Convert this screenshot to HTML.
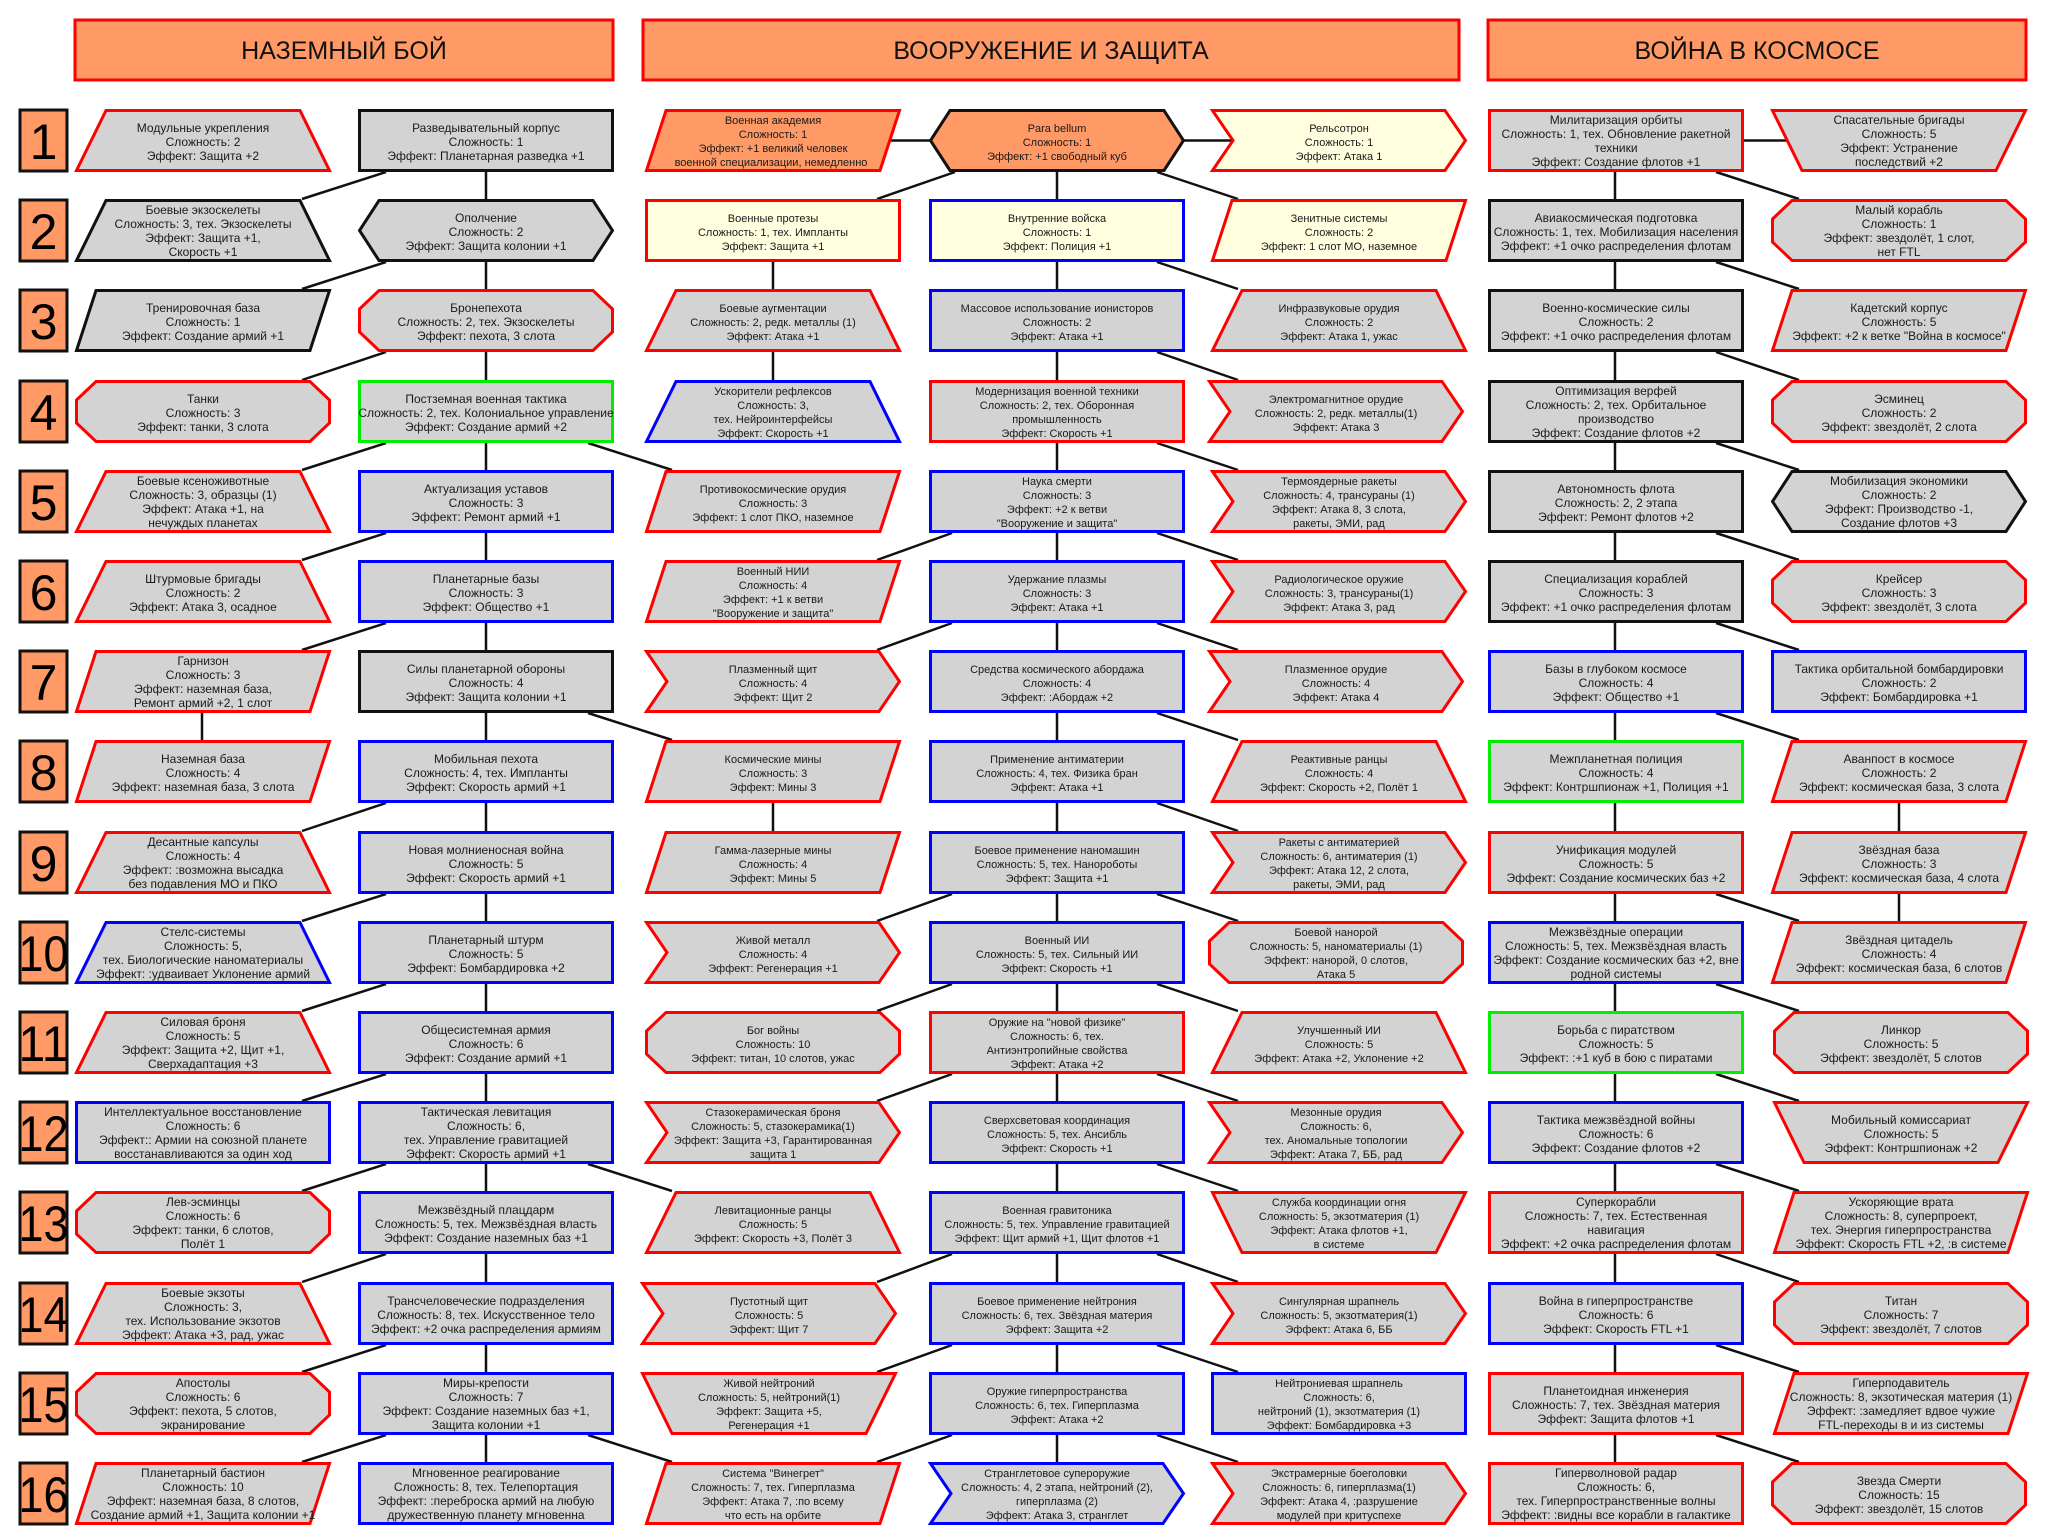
<!DOCTYPE html>
<html><head><meta charset="utf-8">
<style>
html,body{margin:0;padding:0;background:#fff;}
svg{display:block;font-family:"Liberation Sans","DejaVu Sans",sans-serif;}
.t{font-size:12px;fill:#1a1a1a;text-anchor:middle;}
.m .t{font-size:11px;}
.r{stroke:#ff0000;fill:#d3d3d3;}
.b{stroke:#0000ff;fill:#d3d3d3;}
.k{stroke:#111;fill:#d3d3d3;}
.g{stroke:#00ee00;fill:#d3d3d3;}
.ro{stroke:#ff0000;fill:#ff9966;}
.ko{stroke:#111;fill:#ff9966;}
.ry{stroke:#ff0000;fill:#ffffe0;}
.by{stroke:#0000ff;fill:#ffffe0;}
use{stroke-width:3;}
.num{font-size:50px;text-anchor:middle;fill:#000;}
.hd{font-size:25px;text-anchor:middle;fill:#111;}
</style></head><body>
<svg width="2058" height="1537" viewBox="0 0 2058 1537" xmlns="http://www.w3.org/2000/svg">
<defs>
<path id="rect" d="M1.5,1.5H254.5V61.5H1.5Z"/>
<path id="trap" d="M31,1.5H225L254.5,61.5H1.5Z"/>
<path id="inv" d="M1.5,1.5H254.5L225,61.5H31Z"/>
<path id="para" d="M21,1.5H254.5L235,61.5H1.5Z"/>
<path id="hex" d="M21,1.5H235L254.5,31.5L235,61.5H21L1.5,31.5Z"/>
<path id="oct" d="M21,1.5H235L254.5,20V43L235,61.5H21L1.5,43V20Z"/>
<path id="chev" d="M1.5,1.5H234L254.5,31.5L234,61.5H1.5L22,31.5Z"/>
</defs>

<!-- headers -->
<rect x="75" y="20" width="538" height="60" fill="#ff9966" stroke="#ff0000" stroke-width="3"/>
<text class="hd" x="344" y="59">НАЗЕМНЫЙ БОЙ</text>
<rect x="643" y="20" width="816" height="60" fill="#ff9966" stroke="#ff0000" stroke-width="3"/>
<text class="hd" x="1051" y="59">ВООРУЖЕНИЕ И ЗАЩИТА</text>
<rect x="1488" y="20" width="538" height="60" fill="#ff9966" stroke="#ff0000" stroke-width="3"/>
<text class="hd" x="1757" y="59">ВОЙНА В КОСМОСЕ</text>

<!-- number boxes -->
<g fill="#ff9966" stroke="#111" stroke-width="3">
<rect x="20" y="110" width="47" height="61"/><rect x="20" y="200" width="47" height="61"/>
<rect x="20" y="290" width="47" height="61"/><rect x="20" y="381" width="47" height="61"/>
<rect x="20" y="471" width="47" height="61"/><rect x="20" y="561" width="47" height="61"/>
<rect x="20" y="651" width="47" height="61"/><rect x="20" y="741" width="47" height="61"/>
<rect x="20" y="832" width="47" height="61"/><rect x="20" y="922" width="47" height="61"/>
<rect x="20" y="1012" width="47" height="61"/><rect x="20" y="1102" width="47" height="61"/>
<rect x="20" y="1192" width="47" height="61"/><rect x="20" y="1283" width="47" height="61"/>
<rect x="20" y="1373" width="47" height="61"/><rect x="20" y="1463" width="47" height="61"/>
</g>
<g class="num">
<text x="43.5" y="159">1</text><text x="43.5" y="249">2</text><text x="43.5" y="339">3</text><text x="43.5" y="430">4</text>
<text x="43.5" y="520">5</text><text x="43.5" y="610">6</text><text x="43.5" y="700">7</text><text x="43.5" y="790">8</text>
<text x="43.5" y="881">9</text>
<text x="43.5" y="971" textLength="50" lengthAdjust="spacingAndGlyphs">10</text>
<text x="43.5" y="1061" textLength="50" lengthAdjust="spacingAndGlyphs">11</text>
<text x="43.5" y="1151" textLength="50" lengthAdjust="spacingAndGlyphs">12</text>
<text x="43.5" y="1241" textLength="50" lengthAdjust="spacingAndGlyphs">13</text>
<text x="43.5" y="1332" textLength="50" lengthAdjust="spacingAndGlyphs">14</text>
<text x="43.5" y="1422" textLength="50" lengthAdjust="spacingAndGlyphs">15</text>
<text x="43.5" y="1512" textLength="50" lengthAdjust="spacingAndGlyphs">16</text>
</g>

<!-- connectors -->
<g stroke="#111" stroke-width="2.5" fill="none">
<path d="M486,172V1462 M1057,172V1462 M1615,172V1462"/>
<path d="M202,713V740 M773,262V380 M773,803V831 M1899,803V921"/>
<path d="M880,140.5H950 M1160,140.5H1233 M1743,140.5H1790"/>
<path d="M386,172L302,199 M386,262L302,289 M386,352L302,380 M386,443L302,470 M386,533L302,560 M386,623L302,650 M386,803L302,831 M386,894L302,921 M386,984L302,1011 M386,1074L302,1101 M386,1164L302,1191 M386,1254L302,1282 M386,1345L302,1372 M386,1435L302,1462"/>
<path d="M588,443L672,470 M588,713L672,740 M588,1164L672,1191 M588,1435L672,1462"/>
<path d="M955,172L877,199 M952,533L877,560 M952,623L877,650 M952,894L877,921 M952,984L877,1011 M952,1074L877,1101 M952,1254L877,1282 M952,1345L877,1372 M952,1435L877,1462"/>
<path d="M1157,172L1238,199 M1157,262L1238,289 M1157,352L1238,380 M1157,443L1238,470 M1157,533L1238,560 M1157,623L1238,650 M1157,713L1238,740 M1157,803L1238,831 M1157,894L1238,921 M1157,984L1238,1011 M1157,1074L1238,1101 M1157,1164L1238,1191 M1157,1254L1238,1282 M1157,1345L1238,1372 M1157,1435L1238,1462"/>
<path d="M1716,172L1799,199 M1716,262L1799,289 M1716,352L1799,380 M1716,443L1799,470 M1716,533L1799,560 M1716,623L1799,650 M1716,713L1799,740 M1716,894L1799,921 M1716,984L1799,1011 M1716,1074L1799,1101 M1716,1164L1799,1191 M1716,1254L1799,1282 M1716,1345L1799,1372 M1716,1435L1799,1462"/>
</g>

<!-- ===== L1 ===== -->
<g transform="translate(75,109)"><use href="#trap" class="r"/><text class="t"><tspan x="128" y="23">Модульные укрепления</tspan><tspan x="128" y="37">Сложность: 2</tspan><tspan x="128" y="51">Эффект: Защита +2</tspan></text></g>
<g transform="translate(75,199)"><use href="#trap" class="k"/><text class="t"><tspan x="128" y="15">Боевые экзоскелеты</tspan><tspan x="128" y="29">Сложность: 3, тех. Экзоскелеты</tspan><tspan x="128" y="43">Эффект: Защита +1,</tspan><tspan x="128" y="57">Скорость +1</tspan></text></g>
<g transform="translate(75,289)"><use href="#para" class="k"/><text class="t"><tspan x="128" y="23">Тренировочная база</tspan><tspan x="128" y="37">Сложность: 1</tspan><tspan x="128" y="51">Эффект: Создание армий +1</tspan></text></g>
<g transform="translate(75,380)"><use href="#oct" class="r"/><text class="t"><tspan x="128" y="23">Танки</tspan><tspan x="128" y="37">Сложность: 3</tspan><tspan x="128" y="51">Эффект: танки, 3 слота</tspan></text></g>
<g transform="translate(75,470)"><use href="#trap" class="r"/><text class="t"><tspan x="128" y="15">Боевые ксеноживотные</tspan><tspan x="128" y="29">Сложность: 3, образцы (1)</tspan><tspan x="128" y="43">Эффект: Атака +1, на</tspan><tspan x="128" y="57">нечуждых планетах</tspan></text></g>
<g transform="translate(75,560)"><use href="#trap" class="r"/><text class="t"><tspan x="128" y="23">Штурмовые бригады</tspan><tspan x="128" y="37">Сложность: 2</tspan><tspan x="128" y="51">Эффект: Атака 3, осадное</tspan></text></g>
<g transform="translate(75,650)"><use href="#para" class="r"/><text class="t"><tspan x="128" y="15">Гарнизон</tspan><tspan x="128" y="29">Сложность: 3</tspan><tspan x="128" y="43">Эффект: наземная база,</tspan><tspan x="128" y="57">Ремонт армий +2, 1 слот</tspan></text></g>
<g transform="translate(75,740)"><use href="#para" class="r"/><text class="t"><tspan x="128" y="23">Наземная база</tspan><tspan x="128" y="37">Сложность: 4</tspan><tspan x="128" y="51">Эффект: наземная база, 3 слота</tspan></text></g>
<g transform="translate(75,831)"><use href="#trap" class="r"/><text class="t"><tspan x="128" y="15">Десантные капсулы</tspan><tspan x="128" y="29">Сложность: 4</tspan><tspan x="128" y="43">Эффект: :возможна высадка</tspan><tspan x="128" y="57">без подавления МО и ПКО</tspan></text></g>
<g transform="translate(75,921)"><use href="#trap" class="b"/><text class="t"><tspan x="128" y="15">Стелс-системы</tspan><tspan x="128" y="29">Сложность: 5,</tspan><tspan x="128" y="43">тех. Биологические наноматериалы</tspan><tspan x="128" y="57">Эффект: :удваивает Уклонение армий</tspan></text></g>
<g transform="translate(75,1011)"><use href="#trap" class="r"/><text class="t"><tspan x="128" y="15">Силовая броня</tspan><tspan x="128" y="29">Сложность: 5</tspan><tspan x="128" y="43">Эффект: Защита +2, Щит +1,</tspan><tspan x="128" y="57">Сверхадаптация +3</tspan></text></g>
<g transform="translate(75,1101)"><use href="#rect" class="b"/><text class="t"><tspan x="128" y="15">Интеллектуальное восстановление</tspan><tspan x="128" y="29">Сложность: 6</tspan><tspan x="128" y="43">Эффект:: Армии на союзной планете</tspan><tspan x="128" y="57">восстанавливаются за один ход</tspan></text></g>
<g transform="translate(75,1191)"><use href="#oct" class="r"/><text class="t"><tspan x="128" y="15">Лев-эсминцы</tspan><tspan x="128" y="29">Сложность: 6</tspan><tspan x="128" y="43">Эффект: танки, 6 слотов,</tspan><tspan x="128" y="57">Полёт 1</tspan></text></g>
<g transform="translate(75,1282)"><use href="#trap" class="r"/><text class="t"><tspan x="128" y="15">Боевые экзоты</tspan><tspan x="128" y="29">Сложность: 3,</tspan><tspan x="128" y="43">тех. Использование экзотов</tspan><tspan x="128" y="57">Эффект: Атака +3, рад, ужас</tspan></text></g>
<g transform="translate(75,1372)"><use href="#oct" class="r"/><text class="t"><tspan x="128" y="15">Апостолы</tspan><tspan x="128" y="29">Сложность: 6</tspan><tspan x="128" y="43">Эффект: пехота, 5 слотов,</tspan><tspan x="128" y="57">экранирование</tspan></text></g>
<g transform="translate(75,1462)"><use href="#para" class="r"/><text class="t"><tspan x="128" y="15">Планетарный бастион</tspan><tspan x="128" y="29">Сложность: 10</tspan><tspan x="128" y="43">Эффект: наземная база, 8 слотов,</tspan><tspan x="128" y="57">Создание армий +1, Защита колонии +1</tspan></text></g>

<!-- ===== L2 ===== -->
<g transform="translate(358,109)"><use href="#rect" class="k"/><text class="t"><tspan x="128" y="23">Разведывательный корпус</tspan><tspan x="128" y="37">Сложность: 1</tspan><tspan x="128" y="51">Эффект: Планетарная разведка +1</tspan></text></g>
<g transform="translate(358,199)"><use href="#hex" class="k"/><text class="t"><tspan x="128" y="23">Ополчение</tspan><tspan x="128" y="37">Сложность: 2</tspan><tspan x="128" y="51">Эффект: Защита колонии +1</tspan></text></g>
<g transform="translate(358,289)"><use href="#oct" class="r"/><text class="t"><tspan x="128" y="23">Бронепехота</tspan><tspan x="128" y="37">Сложность: 2, тех. Экзоскелеты</tspan><tspan x="128" y="51">Эффект: пехота, 3 слота</tspan></text></g>
<g transform="translate(358,380)"><use href="#rect" class="g"/><text class="t"><tspan x="128" y="23">Постземная военная тактика</tspan><tspan x="128" y="37">Сложность: 2, тех. Колониальное управление</tspan><tspan x="128" y="51">Эффект: Создание армий +2</tspan></text></g>
<g transform="translate(358,470)"><use href="#rect" class="b"/><text class="t"><tspan x="128" y="23">Актуализация уставов</tspan><tspan x="128" y="37">Сложность: 3</tspan><tspan x="128" y="51">Эффект: Ремонт армий +1</tspan></text></g>
<g transform="translate(358,560)"><use href="#rect" class="b"/><text class="t"><tspan x="128" y="23">Планетарные базы</tspan><tspan x="128" y="37">Сложность: 3</tspan><tspan x="128" y="51">Эффект: Общество +1</tspan></text></g>
<g transform="translate(358,650)"><use href="#rect" class="k"/><text class="t"><tspan x="128" y="23">Силы планетарной обороны</tspan><tspan x="128" y="37">Сложность: 4</tspan><tspan x="128" y="51">Эффект: Защита колонии +1</tspan></text></g>
<g transform="translate(358,740)"><use href="#rect" class="b"/><text class="t"><tspan x="128" y="23">Мобильная пехота</tspan><tspan x="128" y="37">Сложность: 4, тех. Импланты</tspan><tspan x="128" y="51">Эффект: Скорость армий +1</tspan></text></g>
<g transform="translate(358,831)"><use href="#rect" class="b"/><text class="t"><tspan x="128" y="23">Новая молниеносная война</tspan><tspan x="128" y="37">Сложность: 5</tspan><tspan x="128" y="51">Эффект: Скорость армий +1</tspan></text></g>
<g transform="translate(358,921)"><use href="#rect" class="b"/><text class="t"><tspan x="128" y="23">Планетарный штурм</tspan><tspan x="128" y="37">Сложность: 5</tspan><tspan x="128" y="51">Эффект: Бомбардировка +2</tspan></text></g>
<g transform="translate(358,1011)"><use href="#rect" class="b"/><text class="t"><tspan x="128" y="23">Общесистемная армия</tspan><tspan x="128" y="37">Сложность: 6</tspan><tspan x="128" y="51">Эффект: Создание армий +1</tspan></text></g>
<g transform="translate(358,1101)"><use href="#rect" class="b"/><text class="t"><tspan x="128" y="15">Тактическая левитация</tspan><tspan x="128" y="29">Сложность: 6,</tspan><tspan x="128" y="43">тех. Управление гравитацией</tspan><tspan x="128" y="57">Эффект: Скорость армий +1</tspan></text></g>
<g transform="translate(358,1191)"><use href="#rect" class="b"/><text class="t"><tspan x="128" y="23">Межзвёздный плацдарм</tspan><tspan x="128" y="37">Сложность: 5, тех. Межзвёздная власть</tspan><tspan x="128" y="51">Эффект: Создание наземных баз +1</tspan></text></g>
<g transform="translate(358,1282)"><use href="#rect" class="b"/><text class="t"><tspan x="128" y="23">Трансчеловеческие подразделения</tspan><tspan x="128" y="37">Сложность: 8, тех. Искусственное тело</tspan><tspan x="128" y="51">Эффект: +2 очка распределения армиям</tspan></text></g>
<g transform="translate(358,1372)"><use href="#rect" class="b"/><text class="t"><tspan x="128" y="15">Миры-крепости</tspan><tspan x="128" y="29">Сложность: 7</tspan><tspan x="128" y="43">Эффект: Создание наземных баз +1,</tspan><tspan x="128" y="57">Защита колонии +1</tspan></text></g>
<g transform="translate(358,1462)"><use href="#rect" class="b"/><text class="t"><tspan x="128" y="15">Мгновенное реагирование</tspan><tspan x="128" y="29">Сложность: 8, тех. Телепортация</tspan><tspan x="128" y="43">Эффект: :переброска армий на любую</tspan><tspan x="128" y="57">дружественную планету мгновенна</tspan></text></g>

<g class="m">
<!-- ===== M1 ===== -->
<g transform="translate(645,109)"><use href="#para" class="ro"/><text class="t"><tspan x="128" y="15">Военная академия</tspan><tspan x="128" y="29">Сложность: 1</tspan><tspan x="128" y="43">Эффект: +1 великий человек</tspan><tspan x="126" y="57">военной специализации, немедленно</tspan></text></g>
<g transform="translate(645,199)"><use href="#rect" class="ry"/><text class="t"><tspan x="128" y="23">Военные протезы</tspan><tspan x="128" y="37">Сложность: 1, тех. Импланты</tspan><tspan x="128" y="51">Эффект: Защита +1</tspan></text></g>
<g transform="translate(645,289)"><use href="#trap" class="r"/><text class="t"><tspan x="128" y="23">Боевые аугментации</tspan><tspan x="128" y="37">Сложность: 2, редк. металлы (1)</tspan><tspan x="128" y="51">Эффект: Атака +1</tspan></text></g>
<g transform="translate(645,380)"><use href="#trap" class="b"/><text class="t"><tspan x="128" y="15">Ускорители рефлексов</tspan><tspan x="128" y="29">Сложность: 3,</tspan><tspan x="128" y="43">тех. Нейроинтерфейсы</tspan><tspan x="128" y="57">Эффект: Скорость +1</tspan></text></g>
<g transform="translate(645,470)"><use href="#para" class="r"/><text class="t"><tspan x="128" y="23">Противокосмические орудия</tspan><tspan x="128" y="37">Сложность: 3</tspan><tspan x="128" y="51">Эффект: 1 слот ПКО, наземное</tspan></text></g>
<g transform="translate(645,560)"><use href="#para" class="r"/><text class="t"><tspan x="128" y="15">Военный НИИ</tspan><tspan x="128" y="29">Сложность: 4</tspan><tspan x="128" y="43">Эффект: +1 к ветви</tspan><tspan x="128" y="57">"Вооружение и защита"</tspan></text></g>
<g transform="translate(645,650)"><use href="#chev" class="r"/><text class="t"><tspan x="128" y="23">Плазменный щит</tspan><tspan x="128" y="37">Сложность: 4</tspan><tspan x="128" y="51">Эффект: Щит 2</tspan></text></g>
<g transform="translate(645,740)"><use href="#para" class="r"/><text class="t"><tspan x="128" y="23">Космические мины</tspan><tspan x="128" y="37">Сложность: 3</tspan><tspan x="128" y="51">Эффект: Мины 3</tspan></text></g>
<g transform="translate(645,831)"><use href="#para" class="r"/><text class="t"><tspan x="128" y="23">Гамма-лазерные мины</tspan><tspan x="128" y="37">Сложность: 4</tspan><tspan x="128" y="51">Эффект: Мины 5</tspan></text></g>
<g transform="translate(645,921)"><use href="#chev" class="r"/><text class="t"><tspan x="128" y="23">Живой металл</tspan><tspan x="128" y="37">Сложность: 4</tspan><tspan x="128" y="51">Эффект: Регенерация +1</tspan></text></g>
<g transform="translate(645,1011)"><use href="#oct" class="r"/><text class="t"><tspan x="128" y="23">Бог войны</tspan><tspan x="128" y="37">Сложность: 10</tspan><tspan x="128" y="51">Эффект: титан, 10 слотов, ужас</tspan></text></g>
<g transform="translate(645,1101)"><use href="#chev" class="r"/><text class="t"><tspan x="128" y="15">Стазокерамическая броня</tspan><tspan x="128" y="29">Сложность: 5, стазокерамика(1)</tspan><tspan x="128" y="43">Эффект: Защита +3, Гарантированная</tspan><tspan x="128" y="57">защита 1</tspan></text></g>
<g transform="translate(645,1191)"><use href="#trap" class="r"/><text class="t"><tspan x="128" y="23">Левитационные ранцы</tspan><tspan x="128" y="37">Сложность: 5</tspan><tspan x="128" y="51">Эффект: Скорость +3, Полёт 3</tspan></text></g>
<g transform="translate(641,1282)"><use href="#chev" class="r"/><text class="t"><tspan x="128" y="23">Пустотный щит</tspan><tspan x="128" y="37">Сложность: 5</tspan><tspan x="128" y="51">Эффект: Щит 7</tspan></text></g>
<g transform="translate(641,1372)"><use href="#inv" class="r"/><text class="t"><tspan x="128" y="15">Живой нейтроний</tspan><tspan x="128" y="29">Сложность: 5, нейтроний(1)</tspan><tspan x="128" y="43">Эффект: Защита +5,</tspan><tspan x="128" y="57">Регенерация +1</tspan></text></g>
<g transform="translate(645,1462)"><use href="#para" class="r"/><text class="t"><tspan x="128" y="15">Система "Винегрет"</tspan><tspan x="128" y="29">Сложность: 7, тех. Гиперплазма</tspan><tspan x="128" y="43">Эффект: Атака 7, :по всему</tspan><tspan x="128" y="57">что есть на орбите</tspan></text></g>

<!-- ===== M2 ===== -->
<g transform="translate(929,109)"><use href="#hex" class="ko"/><text class="t"><tspan x="128" y="23">Para bellum</tspan><tspan x="128" y="37">Сложность: 1</tspan><tspan x="128" y="51">Эффект: +1 свободный куб</tspan></text></g>
<g transform="translate(929,199)"><use href="#rect" class="by"/><text class="t"><tspan x="128" y="23">Внутренние войска</tspan><tspan x="128" y="37">Сложность: 1</tspan><tspan x="128" y="51">Эффект: Полиция +1</tspan></text></g>
<g transform="translate(929,289)"><use href="#rect" class="b"/><text class="t"><tspan x="128" y="23">Массовое использование ионисторов</tspan><tspan x="128" y="37">Сложность: 2</tspan><tspan x="128" y="51">Эффект: Атака +1</tspan></text></g>
<g transform="translate(929,380)"><use href="#rect" class="r"/><text class="t"><tspan x="128" y="15">Модернизация военной техники</tspan><tspan x="128" y="29">Сложность: 2, тех. Оборонная</tspan><tspan x="128" y="43">промышленность</tspan><tspan x="128" y="57">Эффект: Скорость +1</tspan></text></g>
<g transform="translate(929,470)"><use href="#rect" class="b"/><text class="t"><tspan x="128" y="15">Наука смерти</tspan><tspan x="128" y="29">Сложность: 3</tspan><tspan x="128" y="43">Эффект: +2 к ветви</tspan><tspan x="128" y="57">"Вооружение и защита"</tspan></text></g>
<g transform="translate(929,560)"><use href="#rect" class="b"/><text class="t"><tspan x="128" y="23">Удержание плазмы</tspan><tspan x="128" y="37">Сложность: 3</tspan><tspan x="128" y="51">Эффект: Атака +1</tspan></text></g>
<g transform="translate(929,650)"><use href="#rect" class="b"/><text class="t"><tspan x="128" y="23">Средства космического абордажа</tspan><tspan x="128" y="37">Сложность: 4</tspan><tspan x="128" y="51">Эффект: :Абордаж +2</tspan></text></g>
<g transform="translate(929,740)"><use href="#rect" class="b"/><text class="t"><tspan x="128" y="23">Применение антиматерии</tspan><tspan x="128" y="37">Сложность: 4, тех. Физика бран</tspan><tspan x="128" y="51">Эффект: Атака +1</tspan></text></g>
<g transform="translate(929,831)"><use href="#rect" class="b"/><text class="t"><tspan x="128" y="23">Боевое применение наномашин</tspan><tspan x="128" y="37">Сложность: 5, тех. Нанороботы</tspan><tspan x="128" y="51">Эффект: Защита +1</tspan></text></g>
<g transform="translate(929,921)"><use href="#rect" class="b"/><text class="t"><tspan x="128" y="23">Военный ИИ</tspan><tspan x="128" y="37">Сложность: 5, тех. Сильный ИИ</tspan><tspan x="128" y="51">Эффект: Скорость +1</tspan></text></g>
<g transform="translate(929,1011)"><use href="#rect" class="r"/><text class="t"><tspan x="128" y="15">Оружие на "новой физике"</tspan><tspan x="128" y="29">Сложность: 6, тех.</tspan><tspan x="128" y="43">Антиэнтропийные свойства</tspan><tspan x="128" y="57">Эффект: Атака +2</tspan></text></g>
<g transform="translate(929,1101)"><use href="#rect" class="b"/><text class="t"><tspan x="128" y="23">Сверхсветовая координация</tspan><tspan x="128" y="37">Сложность: 5, тех. Ансибль</tspan><tspan x="128" y="51">Эффект: Скорость +1</tspan></text></g>
<g transform="translate(929,1191)"><use href="#rect" class="b"/><text class="t"><tspan x="128" y="23">Военная гравитоника</tspan><tspan x="128" y="37">Сложность: 5, тех. Управление гравитацией</tspan><tspan x="128" y="51">Эффект: Щит армий +1, Щит флотов +1</tspan></text></g>
<g transform="translate(929,1282)"><use href="#rect" class="b"/><text class="t"><tspan x="128" y="23">Боевое применение нейтрония</tspan><tspan x="128" y="37">Сложность: 6, тех. Звёздная материя</tspan><tspan x="128" y="51">Эффект: Защита +2</tspan></text></g>
<g transform="translate(929,1372)"><use href="#rect" class="b"/><text class="t"><tspan x="128" y="23">Оружие гиперпространства</tspan><tspan x="128" y="37">Сложность: 6, тех. Гиперплазма</tspan><tspan x="128" y="51">Эффект: Атака +2</tspan></text></g>
<g transform="translate(929,1462)"><use href="#chev" class="b"/><text class="t"><tspan x="128" y="15">Странглетовое супероружие</tspan><tspan x="128" y="29">Сложность: 4, 2 этапа, нейтроний (2),</tspan><tspan x="128" y="43">гиперплазма (2)</tspan><tspan x="128" y="57">Эффект: Атака 3, странглет</tspan></text></g>

<!-- ===== M3 ===== -->
<g transform="translate(1211,109)"><use href="#chev" class="ry"/><text class="t"><tspan x="128" y="23">Рельсотрон</tspan><tspan x="128" y="37">Сложность: 1</tspan><tspan x="128" y="51">Эффект: Атака 1</tspan></text></g>
<g transform="translate(1211,199)"><use href="#para" class="ry"/><text class="t"><tspan x="128" y="23">Зенитные системы</tspan><tspan x="128" y="37">Сложность: 2</tspan><tspan x="128" y="51">Эффект: 1 слот МО, наземное</tspan></text></g>
<g transform="translate(1211,289)"><use href="#trap" class="r"/><text class="t"><tspan x="128" y="23">Инфразвуковые орудия</tspan><tspan x="128" y="37">Сложность: 2</tspan><tspan x="128" y="51">Эффект: Атака 1, ужас</tspan></text></g>
<g transform="translate(1208,380)"><use href="#chev" class="r"/><text class="t"><tspan x="128" y="23">Электромагнитное орудие</tspan><tspan x="128" y="37">Сложность: 2, редк. металлы(1)</tspan><tspan x="128" y="51">Эффект: Атака 3</tspan></text></g>
<g transform="translate(1211,470)"><use href="#chev" class="r"/><text class="t"><tspan x="128" y="15">Термоядерные ракеты</tspan><tspan x="128" y="29">Сложность: 4, трансураны (1)</tspan><tspan x="128" y="43">Эффект: Атака 8, 3 слота,</tspan><tspan x="128" y="57">ракеты, ЭМИ, рад</tspan></text></g>
<g transform="translate(1211,560)"><use href="#chev" class="r"/><text class="t"><tspan x="128" y="23">Радиологическое оружие</tspan><tspan x="128" y="37">Сложность: 3, трансураны(1)</tspan><tspan x="128" y="51">Эффект: Атака 3, рад</tspan></text></g>
<g transform="translate(1208,650)"><use href="#chev" class="r"/><text class="t"><tspan x="128" y="23">Плазменное орудие</tspan><tspan x="128" y="37">Сложность: 4</tspan><tspan x="128" y="51">Эффект: Атака 4</tspan></text></g>
<g transform="translate(1211,740)"><use href="#trap" class="r"/><text class="t"><tspan x="128" y="23">Реактивные ранцы</tspan><tspan x="128" y="37">Сложность: 4</tspan><tspan x="128" y="51">Эффект: Скорость +2, Полёт 1</tspan></text></g>
<g transform="translate(1211,831)"><use href="#chev" class="r"/><text class="t"><tspan x="128" y="15">Ракеты с антиматерией</tspan><tspan x="128" y="29">Сложность: 6, антиматерия (1)</tspan><tspan x="128" y="43">Эффект: Атака 12, 2 слота,</tspan><tspan x="128" y="57">ракеты, ЭМИ, рад</tspan></text></g>
<g transform="translate(1208,921)"><use href="#oct" class="r"/><text class="t"><tspan x="128" y="15">Боевой нанорой</tspan><tspan x="128" y="29">Сложность: 5, наноматериалы (1)</tspan><tspan x="128" y="43">Эффект: нанорой, 0 слотов,</tspan><tspan x="128" y="57">Атака 5</tspan></text></g>
<g transform="translate(1211,1011)"><use href="#trap" class="r"/><text class="t"><tspan x="128" y="23">Улучшенный ИИ</tspan><tspan x="128" y="37">Сложность: 5</tspan><tspan x="128" y="51">Эффект: Атака +2, Уклонение +2</tspan></text></g>
<g transform="translate(1208,1101)"><use href="#chev" class="r"/><text class="t"><tspan x="128" y="15">Мезонные орудия</tspan><tspan x="128" y="29">Сложность: 6,</tspan><tspan x="128" y="43">тех. Аномальные топологии</tspan><tspan x="128" y="57">Эффект: Атака 7, ББ, рад</tspan></text></g>
<g transform="translate(1211,1191)"><use href="#inv" class="r"/><text class="t"><tspan x="128" y="15">Служба координации огня</tspan><tspan x="128" y="29">Сложность: 5, экзотматерия (1)</tspan><tspan x="128" y="43">Эффект: Атака флотов +1,</tspan><tspan x="128" y="57">в системе</tspan></text></g>
<g transform="translate(1211,1282)"><use href="#chev" class="r"/><text class="t"><tspan x="128" y="23">Сингулярная шрапнель</tspan><tspan x="128" y="37">Сложность: 5, экзотматерия(1)</tspan><tspan x="128" y="51">Эффект: Атака 6, ББ</tspan></text></g>
<g transform="translate(1211,1372)"><use href="#rect" class="b"/><text class="t"><tspan x="128" y="15">Нейтрониевая шрапнель</tspan><tspan x="128" y="29">Сложность: 6,</tspan><tspan x="128" y="43">нейтроний (1), экзотматерия (1)</tspan><tspan x="128" y="57">Эффект: Бомбардировка +3</tspan></text></g>
<g transform="translate(1211,1462)"><use href="#chev" class="r"/><text class="t"><tspan x="128" y="15">Экстрамерные боеголовки</tspan><tspan x="128" y="29">Сложность: 6, гиперплазма(1)</tspan><tspan x="128" y="43">Эффект: Атака 4, :разрушение</tspan><tspan x="128" y="57">модулей при критуспехе</tspan></text></g>
</g>

<!-- ===== R1 ===== -->
<g transform="translate(1488,109)"><use href="#rect" class="r"/><text class="t"><tspan x="128" y="15">Милитаризация орбиты</tspan><tspan x="128" y="29">Сложность: 1, тех. Обновление ракетной</tspan><tspan x="128" y="43">техники</tspan><tspan x="128" y="57">Эффект: Создание флотов +1</tspan></text></g>
<g transform="translate(1488,199)"><use href="#rect" class="k"/><text class="t"><tspan x="128" y="23">Авиакосмическая подготовка</tspan><tspan x="128" y="37">Сложность: 1, тех. Мобилизация населения</tspan><tspan x="128" y="51">Эффект: +1 очко распределения флотам</tspan></text></g>
<g transform="translate(1488,289)"><use href="#rect" class="k"/><text class="t"><tspan x="128" y="23">Военно-космические силы</tspan><tspan x="128" y="37">Сложность: 2</tspan><tspan x="128" y="51">Эффект: +1 очко распределения флотам</tspan></text></g>
<g transform="translate(1488,380)"><use href="#rect" class="k"/><text class="t"><tspan x="128" y="15">Оптимизация верфей</tspan><tspan x="128" y="29">Сложность: 2, тех. Орбитальное</tspan><tspan x="128" y="43">производство</tspan><tspan x="128" y="57">Эффект: Создание флотов +2</tspan></text></g>
<g transform="translate(1488,470)"><use href="#rect" class="k"/><text class="t"><tspan x="128" y="23">Автономность флота</tspan><tspan x="128" y="37">Сложность: 2, 2 этапа</tspan><tspan x="128" y="51">Эффект: Ремонт флотов +2</tspan></text></g>
<g transform="translate(1488,560)"><use href="#rect" class="k"/><text class="t"><tspan x="128" y="23">Специализация кораблей</tspan><tspan x="128" y="37">Сложность: 3</tspan><tspan x="128" y="51">Эффект: +1 очко распределения флотам</tspan></text></g>
<g transform="translate(1488,650)"><use href="#rect" class="b"/><text class="t"><tspan x="128" y="23">Базы в глубоком космосе</tspan><tspan x="128" y="37">Сложность: 4</tspan><tspan x="128" y="51">Эффект: Общество +1</tspan></text></g>
<g transform="translate(1488,740)"><use href="#rect" class="g"/><text class="t"><tspan x="128" y="23">Межпланетная полиция</tspan><tspan x="128" y="37">Сложность: 4</tspan><tspan x="128" y="51">Эффект: Контршпионаж +1, Полиция +1</tspan></text></g>
<g transform="translate(1488,831)"><use href="#rect" class="r"/><text class="t"><tspan x="128" y="23">Унификация модулей</tspan><tspan x="128" y="37">Сложность: 5</tspan><tspan x="128" y="51">Эффект: Создание космических баз +2</tspan></text></g>
<g transform="translate(1488,921)"><use href="#rect" class="b"/><text class="t"><tspan x="128" y="15">Межзвёздные операции</tspan><tspan x="128" y="29">Сложность: 5, тех. Межзвёздная власть</tspan><tspan x="128" y="43">Эффект: Создание космических баз +2, вне</tspan><tspan x="128" y="57">родной системы</tspan></text></g>
<g transform="translate(1488,1011)"><use href="#rect" class="g"/><text class="t"><tspan x="128" y="23">Борьба с пиратством</tspan><tspan x="128" y="37">Сложность: 5</tspan><tspan x="128" y="51">Эффект: :+1 куб в бою с пиратами</tspan></text></g>
<g transform="translate(1488,1101)"><use href="#rect" class="b"/><text class="t"><tspan x="128" y="23">Тактика межзвёздной войны</tspan><tspan x="128" y="37">Сложность: 6</tspan><tspan x="128" y="51">Эффект: Создание флотов +2</tspan></text></g>
<g transform="translate(1488,1191)"><use href="#rect" class="r"/><text class="t"><tspan x="128" y="15">Суперкорабли</tspan><tspan x="128" y="29">Сложность: 7, тех. Естественная</tspan><tspan x="128" y="43">навигация</tspan><tspan x="128" y="57">Эффект: +2 очка распределения флотам</tspan></text></g>
<g transform="translate(1488,1282)"><use href="#rect" class="b"/><text class="t"><tspan x="128" y="23">Война в гиперпространстве</tspan><tspan x="128" y="37">Сложность: 6</tspan><tspan x="128" y="51">Эффект: Скорость FTL +1</tspan></text></g>
<g transform="translate(1488,1372)"><use href="#rect" class="r"/><text class="t"><tspan x="128" y="23">Планетоидная инженерия</tspan><tspan x="128" y="37">Сложность: 7, тех. Звёздная материя</tspan><tspan x="128" y="51">Эффект: Защита флотов +1</tspan></text></g>
<g transform="translate(1488,1462)"><use href="#rect" class="r"/><text class="t"><tspan x="128" y="15">Гиперволновой радар</tspan><tspan x="128" y="29">Сложность: 6,</tspan><tspan x="128" y="43">тех. Гиперпространственные волны</tspan><tspan x="128" y="57">Эффект: :видны все корабли в галактике</tspan></text></g>

<!-- ===== R2 ===== -->
<g transform="translate(1771,109)"><use href="#inv" class="r"/><text class="t"><tspan x="128" y="15">Спасательные бригады</tspan><tspan x="128" y="29">Сложность: 5</tspan><tspan x="128" y="43">Эффект: Устранение</tspan><tspan x="128" y="57">последствий +2</tspan></text></g>
<g transform="translate(1771,199)"><use href="#oct" class="r"/><text class="t"><tspan x="128" y="15">Малый корабль</tspan><tspan x="128" y="29">Сложность: 1</tspan><tspan x="128" y="43">Эффект: звездолёт, 1 слот,</tspan><tspan x="128" y="57">нет FTL</tspan></text></g>
<g transform="translate(1771,289)"><use href="#para" class="r"/><text class="t"><tspan x="128" y="23">Кадетский корпус</tspan><tspan x="128" y="37">Сложность: 5</tspan><tspan x="128" y="51">Эффект: +2 к ветке "Война в космосе"</tspan></text></g>
<g transform="translate(1771,380)"><use href="#oct" class="r"/><text class="t"><tspan x="128" y="23">Эсминец</tspan><tspan x="128" y="37">Сложность: 2</tspan><tspan x="128" y="51">Эффект: звездолёт, 2 слота</tspan></text></g>
<g transform="translate(1771,470)"><use href="#hex" class="k"/><text class="t"><tspan x="128" y="15">Мобилизация экономики</tspan><tspan x="128" y="29">Сложность: 2</tspan><tspan x="128" y="43">Эффект: Производство -1,</tspan><tspan x="128" y="57">Создание флотов +3</tspan></text></g>
<g transform="translate(1771,560)"><use href="#oct" class="r"/><text class="t"><tspan x="128" y="23">Крейсер</tspan><tspan x="128" y="37">Сложность: 3</tspan><tspan x="128" y="51">Эффект: звездолёт, 3 слота</tspan></text></g>
<g transform="translate(1771,650)"><use href="#rect" class="b"/><text class="t"><tspan x="128" y="23">Тактика орбитальной бомбардировки</tspan><tspan x="128" y="37">Сложность: 2</tspan><tspan x="128" y="51">Эффект: Бомбардировка +1</tspan></text></g>
<g transform="translate(1771,740)"><use href="#para" class="r"/><text class="t"><tspan x="128" y="23">Аванпост в космосе</tspan><tspan x="128" y="37">Сложность: 2</tspan><tspan x="128" y="51">Эффект: космическая база, 3 слота</tspan></text></g>
<g transform="translate(1771,831)"><use href="#para" class="r"/><text class="t"><tspan x="128" y="23">Звёздная база</tspan><tspan x="128" y="37">Сложность: 3</tspan><tspan x="128" y="51">Эффект: космическая база, 4 слота</tspan></text></g>
<g transform="translate(1771,921)"><use href="#para" class="r"/><text class="t"><tspan x="128" y="23">Звёздная цитадель</tspan><tspan x="128" y="37">Сложность: 4</tspan><tspan x="128" y="51">Эффект: космическая база, 6 слотов</tspan></text></g>
<g transform="translate(1773,1011)"><use href="#oct" class="r"/><text class="t"><tspan x="128" y="23">Линкор</tspan><tspan x="128" y="37">Сложность: 5</tspan><tspan x="128" y="51">Эффект: звездолёт, 5 слотов</tspan></text></g>
<g transform="translate(1773,1101)"><use href="#inv" class="r"/><text class="t"><tspan x="128" y="23">Мобильный комиссариат</tspan><tspan x="128" y="37">Сложность: 5</tspan><tspan x="128" y="51">Эффект: Контршпионаж +2</tspan></text></g>
<g transform="translate(1773,1191)"><use href="#para" class="r"/><text class="t"><tspan x="128" y="15">Ускоряющие врата</tspan><tspan x="128" y="29">Сложность: 8, суперпроект,</tspan><tspan x="128" y="43">тех. Энергия гиперпространства</tspan><tspan x="128" y="57">Эффект: Скорость FTL +2, :в системе</tspan></text></g>
<g transform="translate(1773,1282)"><use href="#oct" class="r"/><text class="t"><tspan x="128" y="23">Титан</tspan><tspan x="128" y="37">Сложность: 7</tspan><tspan x="128" y="51">Эффект: звездолёт, 7 слотов</tspan></text></g>
<g transform="translate(1773,1372)"><use href="#para" class="r"/><text class="t"><tspan x="128" y="15">Гиперподавитель</tspan><tspan x="128" y="29">Сложность: 8, экзотическая материя (1)</tspan><tspan x="128" y="43">Эффект: :замедляет вдвое чужие</tspan><tspan x="128" y="57">FTL-переходы в и из системы</tspan></text></g>
<g transform="translate(1771,1462)"><use href="#oct" class="r"/><text class="t"><tspan x="128" y="23">Звезда Смерти</tspan><tspan x="128" y="37">Сложность: 15</tspan><tspan x="128" y="51">Эффект: звездолёт, 15 слотов</tspan></text></g>
</svg>
</body></html>
